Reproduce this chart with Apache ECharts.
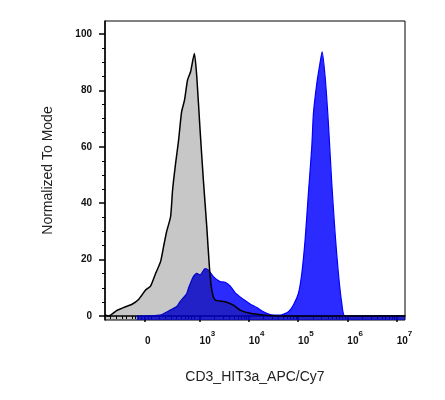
<!DOCTYPE html>
<html><head><meta charset="utf-8">
<script src="https://cdn.jsdelivr.net/npm/echarts@6/dist/echarts.min.js"></script>
<style>html,body{margin:0;padding:0;background:#fff}#c{width:445px;height:400px}</style>
</head><body><div id="c"></div>
<script>
// x values are in display (biexponential) units: 10^k sits at k, "0" sits at ~1.89
const grayX = [1.081,1.152,1.315,1.498,1.620,1.762,1.904,2.005,2.107,2.208,2.269,2.330,2.411,2.452,2.513,2.574,2.635,2.695,2.756,2.817,2.894,2.943,3.010,3.077,3.146,3.199,3.248,3.315,3.518,3.686,3.822,4.025,4.289,4.635,7.17];
const grayY = [0.4,0,1.9,3.3,4.1,5.9,9.2,10.6,15.1,19.3,24.6,29.9,35.2,44.7,54.1,62.4,72.4,76.6,83.7,86.6,93.1,84.9,66.0,48.2,31.7,17.5,9.2,5.7,5.1,3.9,2.1,1.0,0.4,0,0];
const blueX = [1.725,2.198,2.401,2.543,2.604,2.740,2.773,2.874,2.943,3.010,3.112,3.179,3.280,3.416,3.518,3.619,3.721,3.822,3.924,4.025,4.161,4.295,4.431,4.635,4.803,4.905,5.006,5.075,5.142,5.209,5.278,5.311,5.380,5.433,5.487,5.548,5.615,5.684,5.751,5.818,5.887,5.954,7.17];
const blueY = [0,0.35,2.1,3.5,5.1,8.0,9.8,14.0,15.1,14.6,16.8,16.3,14.0,12.2,12.0,10.7,8.3,6.8,5.5,4.3,3.0,1.5,0.5,0.3,1.5,3.9,8.0,15.1,27.0,43.5,60.0,71.9,82.5,88.4,93.7,84.9,68.3,47.0,29.3,15.1,4.5,0,0];
const xMajorPos = [1.893,3,4,5,6,7];
const xMajorLabels = ['0','10^3','10^4','10^5','10^6','10^7'];
const xMinorLow = [1.183,1.305,1.426,1.508,1.629,1.690,1.751,1.812,1.954,2.015,2.184,2.299,2.421,2.523,2.624,2.706,2.773,2.827,2.882];
const decades = [3,4,5,6];
const yMajor = [0,20,40,60,80,100];
const yMinor = [5,10,15,25,30,35,45,50,55,65,70,75,85,90,95];

const xMinor = xMinorLow.slice();
decades.forEach(d => { for (let k = 2; k <= 9; k++) xMinor.push(d + Math.log10(k)); });

const zip = (xs, ys) => xs.map((x, i) => [x, ys[i]]);
const FONT = 'Liberation Sans, Arial, sans-serif';
const X_MIN = 1.08, X_MAX = 7.17, Y_MIN = -1.4, Y_MAX = 104.6;

const chart = echarts.init(document.getElementById('c'), null, {renderer: 'canvas'});
chart.setOption({
  animation: false,
  backgroundColor: '#fff',
  grid: {left: 105, right: 40, top: 21, bottom: 80, show: true, borderColor: '#000', borderWidth: 1},
  xAxis: [{
    type: 'value', min: X_MIN, max: X_MAX,
    name: 'CD3_HIT3a_APC/Cy7', nameLocation: 'middle', nameGap: 50,
    nameTextStyle: {fontFamily: FONT, fontSize: 14, color: '#222'},
    axisLine: {show: true, lineStyle: {color: '#000', width: 1.5}},
    axisTick: {show: true, length: 6, customValues: xMajorPos, lineStyle: {color: '#000', width: 1.5}},
    axisLabel: {
      show: true, customValues: xMajorPos, margin: 10, align: 'left',
      fontFamily: FONT, fontSize: 10, fontWeight: 'bold', color: '#111', lineHeight: 22,
      formatter: v => {
        let i = xMajorPos.findIndex(p => Math.abs(p - v) < 1e-6);
        if (i < 0) return '';
        return xMajorLabels[i].replace(/\^(\d+)/, '{s|$1}');
      },
      rich: {s: {fontFamily: FONT, fontSize: 8, fontWeight: 'bold', color: '#111', lineHeight: 8, verticalAlign: 'top'}}
    },
    splitLine: {show: false}
  }, {
    type: 'value', min: X_MIN, max: X_MAX, position: 'bottom', gridIndex: 0,
    axisLine: {show: false},
    axisTick: {show: true, length: 3, customValues: xMinor, lineStyle: {color: '#000', width: 1}},
    axisLabel: {show: false},
    splitLine: {show: false}
  }],
  yAxis: [{
    type: 'value', min: Y_MIN, max: Y_MAX,
    name: 'Normalized To Mode', nameLocation: 'middle', nameGap: 50,
    nameTextStyle: {fontFamily: FONT, fontSize: 14, color: '#222'},
    axisLine: {show: true, lineStyle: {color: '#000', width: 1.5}},
    axisTick: {show: true, length: 6, customValues: yMajor, lineStyle: {color: '#000', width: 1.5}},
    axisLabel: {show: true, customValues: yMajor, margin: 13, fontFamily: FONT, fontSize: 10, fontWeight: 'bold', color: '#111'},
    splitLine: {show: false}
  }, {
    type: 'value', min: Y_MIN, max: Y_MAX, position: 'left', gridIndex: 0,
    axisLine: {show: false},
    axisTick: {show: true, length: 3, customValues: yMinor, lineStyle: {color: '#000', width: 1}},
    axisLabel: {show: false},
    splitLine: {show: false}
  }],
  series: [{
    name: 'CD3', type: 'line', xAxisIndex: 0, yAxisIndex: 0,
    data: zip(blueX, blueY), showSymbol: false, smooth: 0.2, z: 2,
    lineStyle: {color: '#0000ff', width: 1.2},
    areaStyle: {color: 'rgba(0,0,255,0.83)', opacity: 1, origin: 'start'}
  }, {
    name: 'Control', type: 'line', xAxisIndex: 0, yAxisIndex: 0,
    data: zip(grayX, grayY), showSymbol: false, smooth: 0.2, z: 3,
    lineStyle: {color: '#000', width: 1.5},
    areaStyle: {color: 'rgba(0,0,0,0.22)', opacity: 1, origin: 'start'}
  }]
});
</script></body></html>
